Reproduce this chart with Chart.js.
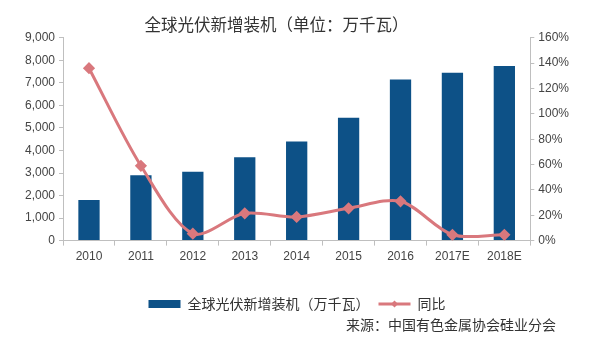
<!DOCTYPE html>
<html>
<head>
<meta charset="utf-8">
<script src="https://cdn.jsdelivr.net/npm/chart.js@4"></script>
<style>
html,body{margin:0;padding:0;background:#fff;}
#wrap{width:600px;height:356px;}
</style>
</head>
<body>
<div id="wrap"><canvas id="c" width="600" height="356"></canvas></div>
<script>
const categories = ['2010','2011','2012','2013','2014','2015','2016','2017E','2018E'];
const installed = [1800, 2900, 3050, 3700, 4400, 5450, 7150, 7450, 7750];
const yoy = [136, 59, 5.5, 21.5, 18.7, 25.5, 31, 4.6, 4.6];
const leftTicks = [0, 9000, 1000];
const rightTicks = [0, 160, 20];
const title = '全球光伏新增装机（单位：万千瓦）\u3000\u3000\u3000';
const barLabel = '全球光伏新增装机（万千瓦）';
const lineLabel = '同比';
const source = '来源：中国有色金属协会硅业分会';

const FONT = "'Liberation Sans', 'Noto Sans CJK SC', sans-serif";
const BAR = '#0d5187';
const LINE = '#d9787d';
const AXIS = '#bfbfbf';

const extrasPlugin = {
  id: 'extras',
  afterDraw(chart) {
    const ctx = chart.ctx;
    ctx.save();
    const lg = chart.legend;
    if (lg && lg.legendHitBoxes) {
      lg.legendItems.forEach((it, i) => {
        if (it.pointStyle === 'line') {
          const hb = lg.legendHitBoxes[i];
          const cx = hb.left + 16, cy = hb.top + hb.height / 2;
          ctx.fillStyle = LINE;
          ctx.beginPath();
          ctx.moveTo(cx, cy - 3.5); ctx.lineTo(cx + 3.5, cy); ctx.lineTo(cx, cy + 3.5); ctx.lineTo(cx - 3.5, cy);
          ctx.closePath(); ctx.fill();
        }
      });
    }
    ctx.font = "14px 'Noto Sans CJK SC', sans-serif";
    ctx.fillStyle = '#333';
    ctx.textAlign = 'right';
    ctx.textBaseline = 'middle';
    ctx.fillText(source, 556, 325);
    ctx.restore();
  }
};

new Chart(document.getElementById('c'), {
  data: {
    labels: categories,
    datasets: [
      {
        type: 'line',
        label: lineLabel,
        data: yoy,
        yAxisID: 'y1',
        borderColor: LINE,
        backgroundColor: LINE,
        borderWidth: 3,
        tension: 0.3,
        pointStyle: 'rectRot',
        pointRadius: 4,
        pointBackgroundColor: LINE,
        pointBorderColor: LINE,
        order: 0
      },
      {
        type: 'bar',
        label: barLabel,
        data: installed,
        yAxisID: 'y',
        backgroundColor: BAR,
        borderWidth: 0,
        barPercentage: 0.41,
        categoryPercentage: 1,
        order: 1
      }
    ]
  },
  options: {
    responsive: false,
    animation: false,
    layout: { padding: { left: 21, right: 27, bottom: 35 } },
    plugins: {
      title: {
        display: true,
        text: title,
        color: '#333',
        font: { family: "'Noto Sans CJK SC', sans-serif", size: 16.5, weight: 'normal', lineHeight: 1.2 },
        padding: { top: 15, bottom: 3 }
      },
      legend: {
        display: true,
        position: 'bottom',
        reverse: true,
        labels: {
          color: '#333',
          font: { family: "'Noto Sans CJK SC', sans-serif", size: 14 },
          usePointStyle: true,
          pointStyleWidth: 32,
          boxHeight: 8,
          padding: 9,
          generateLabels(chart) {
            const items = Chart.defaults.plugins.legend.labels.generateLabels(chart);
            items.forEach(it => {
              const ds = chart.data.datasets[it.datasetIndex];
              if (ds.type === 'line') { it.pointStyle = 'line'; it.lineWidth = 3; it.strokeStyle = LINE; }
              else { it.pointStyle = 'rect'; it.lineWidth = 0; }
            });
            return items;
          }
        }
      },
      tooltip: { enabled: false }
    },
    scales: {
      x: {
        offset: true,
        grid: { display: true, offset: true, drawOnChartArea: false, tickLength: 5, color: AXIS },
        border: { color: AXIS },
        ticks: { color: '#444', font: { family: FONT, size: 12 }, padding: 4 },
        afterFit(scale) { scale.height += 20; }
      },
      y: {
        position: 'left',
        min: leftTicks[0], max: leftTicks[1],
        grid: { drawOnChartArea: false, tickLength: 4, color: AXIS },
        border: { color: AXIS },
        ticks: {
          stepSize: leftTicks[2],
          color: '#444',
          font: { family: FONT, size: 12 },
          padding: 4,
          callback: v => v.toLocaleString('en-US')
        }
      },
      y1: {
        position: 'right',
        min: rightTicks[0], max: rightTicks[1],
        grid: { drawOnChartArea: false, tickLength: 4, color: AXIS },
        border: { color: AXIS },
        ticks: {
          stepSize: rightTicks[2],
          color: '#444',
          font: { family: FONT, size: 12 },
          padding: 4,
          callback: v => v + '%'
        }
      }
    }
  },
  plugins: [extrasPlugin]
});
</script>
</body>
</html>
